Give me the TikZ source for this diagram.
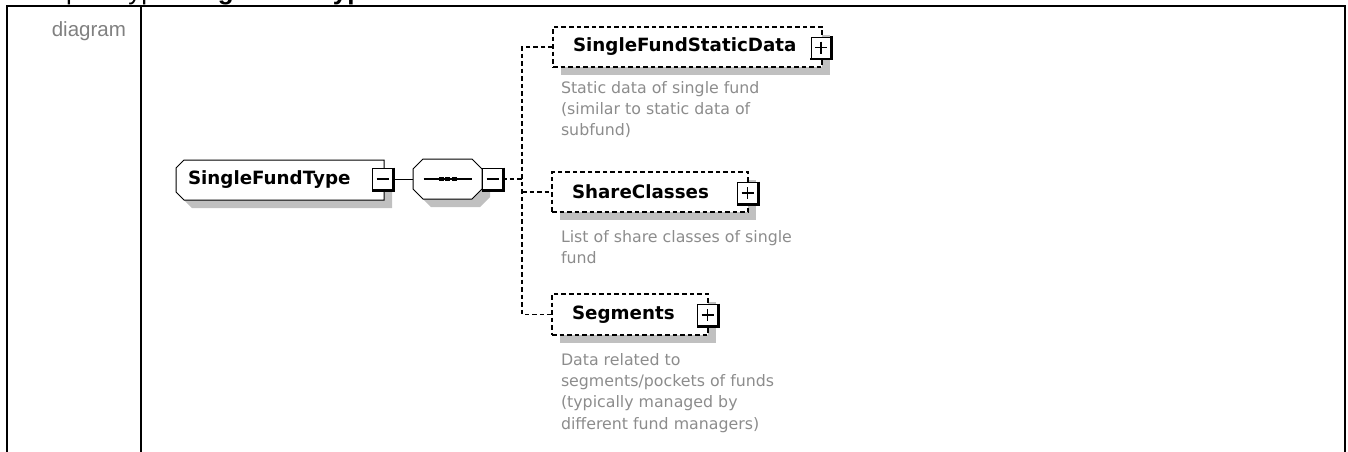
\documentclass[tikz,border=0pt]{standalone}
\usepackage{fontspec}
\setmainfont{DejaVu Sans}
\newfontfamily\arialfont{Liberation Sans}
\usetikzlibrary{backgrounds}
\definecolor{shadowgray}{RGB}{192,192,192}
\definecolor{descgray}{RGB}{140,140,140}
\definecolor{labgray}{RGB}{128,128,128}
\begin{document}
\begin{tikzpicture}[x=0.75pt,y=-0.75pt,
  every node/.style={inner sep=0pt,outer sep=0pt},
  elname/.style={font=\fontsize{13.7pt}{16pt}\selectfont\bfseries},
  dashline/.style={line width=1.1pt,dash pattern=on 3.4pt off 2.25pt},
  thinline/.style={line width=0.75pt},
  optbox/.style={draw,dashline,fill=white,minimum height=30pt,anchor=west,inner xsep=15pt,align=left,elname},
  pmbox/.style={draw,line width=0.75pt,fill=white,minimum width=14.5pt,minimum height=15.75pt},
  desc/.style={anchor=north west,align=left,text=descgray,font=\fontsize{11.85pt}{16.1pt}\selectfont},
  shapebox/.style={rectangle,draw=none},
  shfill/.style={fill=shadowgray},
  whitebox/.style={draw,line width=0.75pt,fill=white}]
\useasboundingbox (0,0) rectangle (1348,451);
\clip (0,0) rectangle (1348,451);
% header title (cut off at top, as in the source)
\node[anchor=base west,font=\arialfont\fontsize{19.5pt}{22pt}\selectfont] (title) at (17,-1) {complexType \textbf{SingleFundType}};
% table frame
\draw[line width=1.5pt] (7,470) -- (7,6) -- (1345,6) -- (1345,470);
\draw[line width=1.5pt] (141,6) -- (141,470);
\node[anchor=base east,font=\arialfont\fontsize{15.4pt}{18pt}\selectfont,text=labgray] (diag) at (126,36) {diagram};
% complex type box
\node[shapebox,minimum width=156pt,minimum height=30pt,
      text width=138pt,align=left,elname] (sft) at (280,180) {SingleFundType};
\node[pmbox] (sftm) at (382.5,179) {};
% sequence compositor
\node[shapebox,minimum width=51.75pt,minimum height=30pt] (seq) at (447.5,179) {};
\node[pmbox] (seqm) at (492.5,179) {};
% child elements
\node[optbox,text width=171.75pt] (sfsd) at (553,47) {SingleFundStaticData};
\node[pmbox] (sfsdp) at (821,47.5) {};
\node[optbox,text width=117pt] (sc) at (552,192) {ShareClasses};
\node[pmbox] (scp) at (747.5,193) {};
\node[optbox,text width=87pt,minimum height=30.75pt] (seg) at (552,314.5) {Segments};
\node[pmbox] (segp) at (707.5,315) {};
% descriptions
\node[desc] (d1) at (561,81) {Static data of single fund\\(similar to static data of\\subfund)};
\node[desc] (d2) at (561,230) {List of share classes of single\\fund};
\node[desc] (d3) at (561,353) {Data related to\\segments/pockets of funds\\(typically managed by\\different fund managers)};
% shadows and chamfered outlines
\begin{scope}[on background layer]
\foreach \b in {sfsd,sc,seg}{
  \fill[shadowgray] ([shift={(8,8)}]\b.north west) rectangle ([shift={(8,8)}]\b.south east);
}
\foreach \o/\sty in {8/shfill,0/whitebox}{
  \path[\sty] ([shift={(8+\o,\o)}]sft.north west) -- ([shift={(\o,\o)}]sft.north east) -- ([shift={(\o,\o)}]sft.south east)
    -- ([shift={(8+\o,\o)}]sft.south west) -- ([shift={(\o,\o-8)}]sft.south west) -- ([shift={(\o,\o+8)}]sft.north west) -- cycle;
  \path[\sty] ([shift={(10+\o,\o)}]seq.north west) -- ([shift={(\o-10,\o)}]seq.north east) -- ([shift={(\o,\o+10)}]seq.north east)
    -- ([shift={(\o,\o-10)}]seq.south east) -- ([shift={(\o-10,\o)}]seq.south east) -- ([shift={(\o+10,\o)}]seq.south west)
    -- ([shift={(\o,\o-10)}]seq.south west) -- ([shift={(\o,\o+10)}]seq.north west) -- cycle;
}
\end{scope}
% plus/minus details
\foreach \b in {sftm,seqm,sfsdp,scp,segp}{
  \draw[line width=2.2pt] ([shift={(1,-1)}]\b.north east) -- ([shift={(1,1)}]\b.south east) -- ([shift={(-1,1)}]\b.south west);
  \draw[line width=1pt] ([shift={(-6,0)}]\b.center) -- ([shift={(6,0)}]\b.center);
}
\foreach \b in {sfsdp,scp,segp}{
  \draw[line width=1pt] ([shift={(0,-6)}]\b.center) -- ([shift={(0,6)}]\b.center);
}
% sequence symbol
\draw[line width=1.1pt] ([shift={(-24,0)}]seq.center) -- ([shift={(24,0)}]seq.center);
\foreach \dx in {-6.5,0,6.5}{
  \fill ([shift={(\dx-2.5,-2.2)}]seq.center) rectangle ([shift={(\dx+2.5,2.2)}]seq.center);
}
% connectors
\coordinate (spine) at (522,0);
\draw[thinline] (sftm.east) -- (seq.west);
\draw[dashline] (seqm.east) -- (seqm.east -| spine);
\draw[dashline] (sfsd.west) -- (sfsd.west -| spine) -- (seg.west -| spine) -- (seg.west);
\draw[dashline] (sc.west -| spine) -- (sc.west);
\end{tikzpicture}
\end{document}
